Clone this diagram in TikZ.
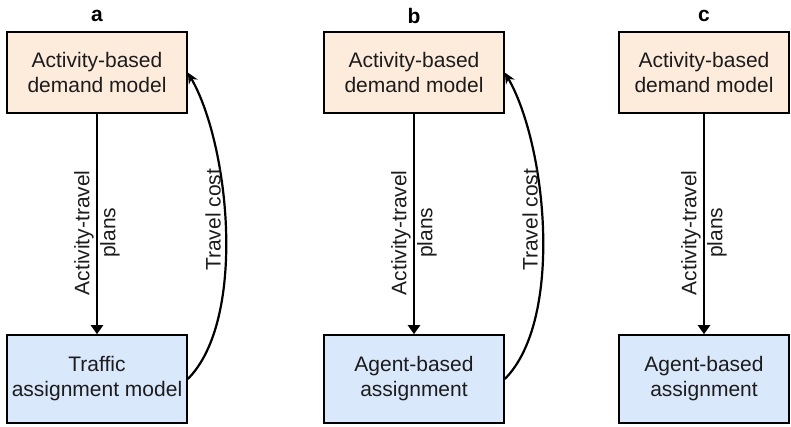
\documentclass[tikz,border=0pt]{standalone}
\usepackage{fontspec}
\setmainfont{Liberation Sans}
\usetikzlibrary{arrows.meta}

\definecolor{demandfill}{RGB}{253,235,220}
\definecolor{assignfill}{RGB}{218,232,252}
\definecolor{inkgray}{RGB}{28,28,28}

\tikzset{
  model/.style={draw=black, line width=1.6pt, minimum width=180pt, align=center,
    text=inkgray, font=\fontsize{21pt}{25pt}\selectfont},
  demand/.style={model, fill=demandfill, minimum height=81pt},
  assign/.style={model, fill=assignfill, minimum height=88pt},
  flow/.style={line width=2.2pt, -{Triangle[width=12pt,length=9pt]}},
  feedback/.style={line width=2.2pt, -{Stealth[width=10pt,length=11pt]}},
  tag/.style={font=\fontsize{21pt}{25pt}\selectfont\bfseries},
  edgetext/.style={align=center, text=inkgray, font=\fontsize{21pt}{26pt}\selectfont}
}

\begin{document}
\begin{tikzpicture}[x=10pt,y=10pt]
\useasboundingbox (0,0) rectangle (79.1,-42.6);
% a: demand model coupled to a static assignment
\node[tag] (taga) at (9.7,-1.6) {a};
\node[demand] (abma) at (9.7,-7.25) {Activity-based\\demand model};
\node[assign] (tama) at (9.7,-37.9) {Traffic\\assignment model};
\draw[flow] (abma) -- node[edgetext, pos=0.54, rotate=90]{Activity-travel\\plans} (tama);
\draw[feedback] (tama.east) to[out=45,in=-60,looseness=0.7]
  node[edgetext, pos=0.53, rotate=90, anchor=south]{Travel cost} (abma.east);
% b: agent-based assignment with feedback
\node[tag] (tagb) at (41.4,-1.6) {b};
\node[demand] (abmb) at (41.4,-7.25) {Activity-based\\demand model};
\node[assign] (agab) at (41.4,-37.9) {Agent-based\\assignment};
\draw[flow] (abmb) -- node[edgetext, pos=0.54, rotate=90]{Activity-travel\\plans} (agab);
\draw[feedback] (agab.east) to[out=45,in=-60,looseness=0.7]
  node[edgetext, pos=0.53, rotate=90, anchor=south]{Travel cost} (abmb.east);
% c: one-way, no feedback
\node[tag] (tagc) at (70.4,-1.6) {c};
\node[demand, minimum width=170pt] (abmc) at (70.4,-7.25) {Activity-based\\demand model};
\node[assign, minimum width=170pt] (agac) at (70.4,-37.9) {Agent-based\\assignment};
\draw[flow] (abmc) -- node[edgetext, pos=0.54, rotate=90]{Activity-travel\\plans} (agac);
\end{tikzpicture}
\end{document}
